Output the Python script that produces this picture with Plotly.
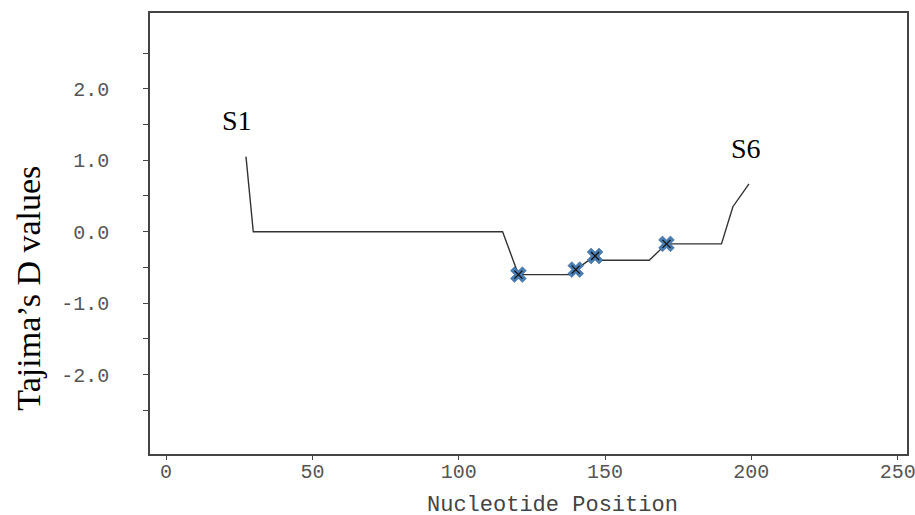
import plotly.graph_objects as go

# Tajima's D sliding-window values
positions = [27.3, 29.8, 115, 120.4, 138.6, 140, 146.6, 148.3, 165.1, 171, 189.8, 193.7, 199.2]
tajima_d = [1.05, 0.0, 0.0, -0.60, -0.60, -0.53, -0.34, -0.40, -0.40, -0.17, -0.17, 0.35, 0.67]

# marked (significant) windows
marked_pos = [120.4, 140, 146.6, 171]
marked_d = [-0.60, -0.53, -0.34, -0.17]

x_ticks = [0, 50, 100, 150, 200, 250]
y_tickvals = [-2.5, -2.0, -1.5, -1.0, -0.5, 0.0, 0.5, 1.0, 1.5, 2.0, 2.5]
y_ticktext = ["", "-2.0", "", "-1.0", "", "0.0", "", "1.0", "", "2.0", ""]

labels = [("S1", 24.1, 1.55), ("S6", 198.2, 1.165)]

fig = go.Figure()
fig.add_trace(go.Scatter(
    x=positions, y=tajima_d, mode="lines",
    line=dict(color="#333333", width=1.4), showlegend=False, hoverinfo="skip"))
fig.add_trace(go.Scatter(
    x=marked_pos, y=marked_d, mode="markers",
    marker=dict(symbol="x", size=14, color="#4a7db3",
                line=dict(color="#2f5f8f", width=0.5)),
    showlegend=False))
fig.add_trace(go.Scatter(
    x=marked_pos, y=marked_d, mode="markers",
    marker=dict(symbol="x-thin", size=8, color="#111111",
                line=dict(color="#111111", width=1.3)),
    showlegend=False, hoverinfo="skip"))

mono = "Liberation Mono, Courier New, monospace"
serif = "Liberation Serif, Times New Roman, serif"

annotations = [dict(x=lx, y=ly, xref="x", yref="y", text=t, showarrow=False,
                    font=dict(family=serif, size=28, color="#000000"))
               for t, lx, ly in labels]
annotations.append(dict(x=-0.1605, y=0.376, xref="paper", yref="paper",
                        xanchor="center", yanchor="middle",
                        text="Tajima’s D values", textangle=-90, showarrow=False,
                        font=dict(family=serif, size=34, color="#000000")))
annotations.append(dict(x=0.5317, y=-0.116, xref="paper", yref="paper",
                        xanchor="center", yanchor="middle",
                        text="Nucleotide Position", showarrow=False,
                        font=dict(family=mono, size=22, color="#444444")))

fig.update_layout(
    width=915, height=515,
    margin=dict(l=150, r=8, t=13, b=61, autoexpand=False),
    paper_bgcolor="white", plot_bgcolor="white",
    annotations=annotations,
)
fig.update_xaxes(
    range=[-5.5, 253.2], tickvals=x_ticks, ticks="outside", ticklen=4,
    tickcolor="#444444", showgrid=False, zeroline=False, automargin=False,
    showline=True, linecolor="#444444", linewidth=1.5, mirror=True,
    ticklabelstandoff=-6, ticklabeloverflow="allow",
    tickfont=dict(family=mono, size=20, color="#555555"),
)
fig.update_yaxes(
    range=[-3.11, 3.06], tickvals=y_tickvals, ticktext=y_ticktext,
    ticks="outside", ticklen=5, tickcolor="#444444",
    showgrid=False, zeroline=False, automargin=False,
    showline=True, linecolor="#444444", linewidth=1.5, mirror=True,
    ticklabelstandoff=30,
    tickfont=dict(family=mono, size=20, color="#555555"),
)

fig.write_html(
    "out.html",
    config={"displayModeBar": False},
    post_script="document.body.style.margin='0';document.body.style.overflow='hidden';",
)
